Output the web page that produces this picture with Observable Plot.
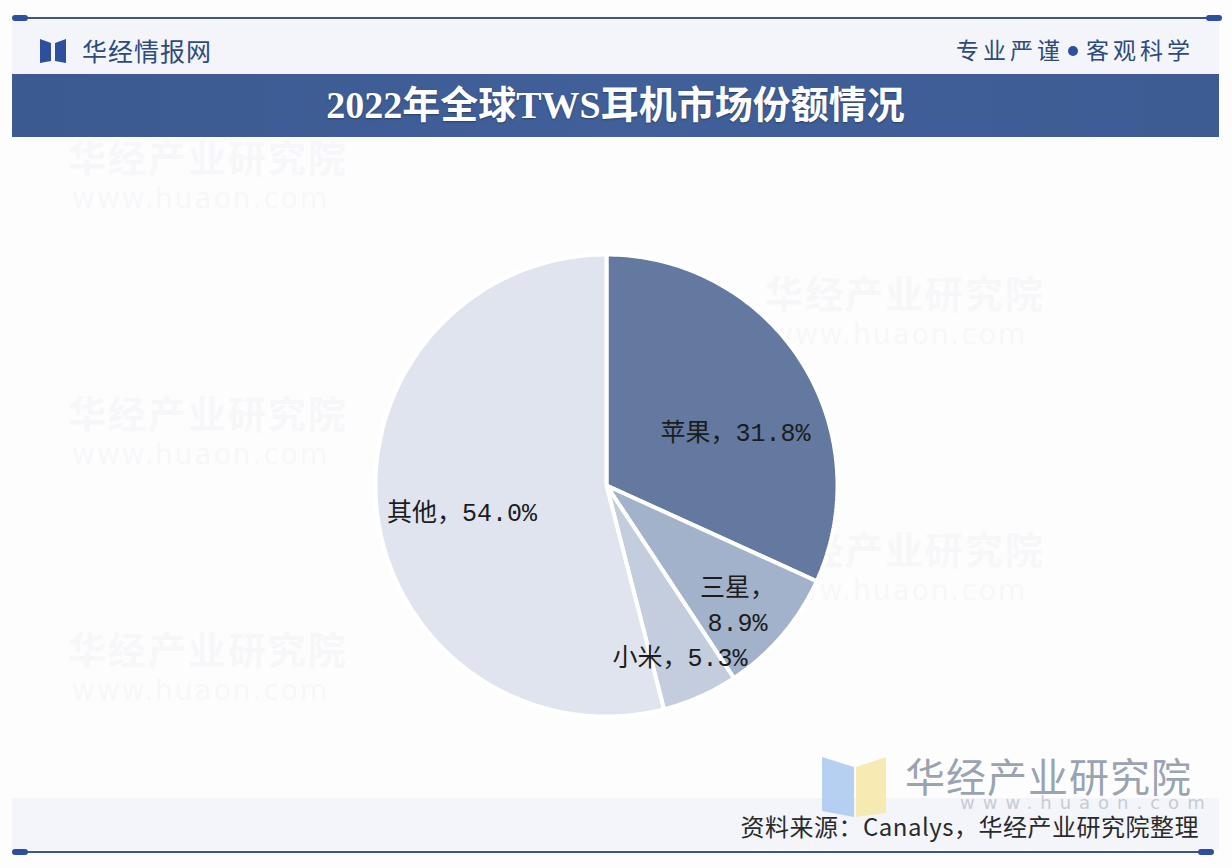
<!DOCTYPE html>
<html>
<head>
<meta charset="utf-8">
<script src="https://cdn.jsdelivr.net/npm/d3@7"></script>
<script src="https://cdn.jsdelivr.net/npm/@observablehq/plot@0.6"></script>
<style>
  html, body { margin: 0; padding: 0; }
  body { width: 1232px; height: 868px; position: relative; overflow: hidden; background: #fdfdfe; font-family: "Noto Sans CJK SC", "Noto Sans", sans-serif; }
  .abs { position: absolute; }
  #topline { left: 14px; top: 17px; width: 1206px; height: 2px; background: #3a5688; }
  #topcapL { left: 12px; top: 15px; width: 16px; height: 6px; border-radius: 3px; background: #2c4f9e; }
  #topcapR { left: 1206px; top: 15px; width: 16px; height: 6px; border-radius: 3px; background: #2c4f9e; }
  #header { left: 12px; top: 20px; width: 1207px; height: 54px; background: #f3f5fa; }
  #brand { left: 82px; top: 32px; font-size: 25px; color: #2f4b7c; letter-spacing: 1px; line-height: 36px; }
  #slogan { right: 38px; top: 31px; font-size: 23px; color: #2f4b7c; letter-spacing: 4px; line-height: 36px; }
  #dot { display: inline-block; width: 10px; height: 10px; border-radius: 5px; background: #2c4f9e; margin: 0 8px 3px 4px; vertical-align: middle; }
  #banner { left: 12px; top: 74px; width: 1207px; height: 63px; background: linear-gradient(90deg, #3b5a91, #41609a 50%, #3d5c94); }
  #title { left: 12px; top: 74px; width: 1207px; height: 63px; line-height: 63px; text-align: center; color: #ffffff; font-size: 38px; font-weight: bold; font-family: "Liberation Serif", "Noto Sans CJK SC", serif; text-shadow: 0 1px 2px rgba(0,0,0,0.35); }
  #footer { left: 12px; top: 798px; width: 1207px; height: 52px; background: #f3f5fa; }
  #botline { left: 14px; top: 851px; width: 1198px; height: 2px; background: #3a5688; }
  #botcapL { left: 12px; top: 849px; width: 16px; height: 6px; border-radius: 3px; background: #2c4f9e; }
  #botcapR { left: 1198px; top: 849px; width: 16px; height: 6px; border-radius: 3px; background: #2c4f9e; }
  #source { right: 33px; top: 811px; font-size: 24px; color: #2a2a2a; line-height: 30px; letter-spacing: 0.5px; }
  .wm { color: #7d8796; opacity: 0.045; font-size: 38px; line-height: 40px; font-weight: bold; letter-spacing: 2px; }
  .wm2 { color: #7d8796; opacity: 0.04; font-size: 28px; line-height: 30px; letter-spacing: 2px; font-family: "DejaVu Sans", sans-serif; }
  #wmbig { left: 905px; top: 755px; font-size: 40px; color: #9aa3b0; letter-spacing: 1px; line-height: 40px; }
  #wmurl { left: 960px; top: 796px; font-size: 18px; color: #9aa3b0; opacity: 0.5; letter-spacing: 8px; line-height: 14px; font-family: "DejaVu Sans", sans-serif; }
  #chart { left: 0; top: 140px; }
</style>
</head>
<body>
<div class="abs" id="header"></div>
<div class="abs" id="topline"></div>
<div class="abs" id="topcapL"></div>
<div class="abs" id="topcapR"></div>
<svg class="abs" style="left:38px;top:37px" width="30" height="28" viewBox="0 0 30 28">
  <polygon points="2,2 13,6 13,24 2,26" fill="#2c4f9e"/>
  <polygon points="28,2 17,6 17,24 28,26" fill="#2c4f9e"/>
</svg>
<div class="abs" id="brand">华经情报网</div>
<div class="abs" id="slogan">专业严谨<span id="dot"></span>客观科学</div>
<div class="abs" id="banner"></div>
<div class="abs" id="title">2022年全球TWS耳机市场份额情况</div>

<div class="abs wm" style="left:68px;top:136px;">华经产业研究院</div>
<div class="abs wm2" style="left:72px;top:184px;">www.huaon.com</div>
<div class="abs wm" style="left:68px;top:392px;">华经产业研究院</div>
<div class="abs wm2" style="left:72px;top:440px;">www.huaon.com</div>
<div class="abs wm" style="left:68px;top:628px;">华经产业研究院</div>
<div class="abs wm2" style="left:72px;top:676px;">www.huaon.com</div>
<div class="abs wm" style="left:765px;top:272px;">华经产业研究院</div>
<div class="abs wm2" style="left:770px;top:320px;">www.huaon.com</div>
<div class="abs wm" style="left:765px;top:528px;">华经产业研究院</div>
<div class="abs wm2" style="left:770px;top:576px;">www.huaon.com</div>

<div class="abs" id="footer"></div>
<svg class="abs" style="left:820px;top:755px" width="70" height="68" viewBox="0 0 70 68">
  <polygon points="2,2 34,12 34,62 2,56" fill="#a9c8f0" opacity="0.85"/>
  <polygon points="36,12 66,2 66,58 36,62" fill="#f6e7a6" opacity="0.85"/>
</svg>
<div class="abs" id="wmbig">华经产业研究院</div>
<div class="abs" id="wmurl">www.huaon.com</div>
<div class="abs" id="source">资料来源：Canalys，华经产业研究院整理</div>
<div class="abs" id="botline"></div>
<div class="abs" id="botcapL"></div>
<div class="abs" id="botcapR"></div>

<div class="abs" id="chart"></div>

<script>
// ---- data ----
const brands = ["苹果", "三星", "小米", "其他"];
const shares = [31.8, 8.9, 5.3, 54.0];
const colors = ["#63799f", "#a3b2cb", "#c3cddd", "#dfe4ee"];

// ---- geometry (derived from data) ----
const W = 1232, H = 660;
const R = 231;            // pie radius in px
const CX = 606, CY = 345; // pie center in svg px
const pie = d3.pie().sort(null).value(d => d.share)(brands.map((b, i) => ({brand: b, share: shares[i]})));

const slices = pie.map((p, i) => {
  const pts = [{x: 0, y: 0}];
  const n = Math.max(2, Math.ceil((p.endAngle - p.startAngle) / (2 * Math.PI) * 360));
  for (let k = 0; k <= n; k++) {
    const a = p.startAngle + (p.endAngle - p.startAngle) * k / n;
    pts.push({x: Math.sin(a), y: Math.cos(a)});
  }
  pts.push({x: 0, y: 0});
  return {brand: p.data.brand, color: colors[i], pts};
});

// label placement tweaks (screen px)
const labelK = 0.7;
const tweak = {"苹果": [-7, 32], "三星": [8, 12], "小米": [8, 22], "其他": [16, 4]};
const labels = pie.map(p => {
  const mid = (p.startAngle + p.endAngle) / 2;
  const name = p.data.brand;
  const txt = name === "三星"
    ? `${name}，\n${p.data.share.toFixed(1)}%`
    : `${name}，${p.data.share.toFixed(1)}%`;
  return {x: labelK * Math.sin(mid), y: labelK * Math.cos(mid), text: txt, dx: tweak[name][0], dy: tweak[name][1]};
});

const marks = slices.map(s =>
  Plot.line(s.pts, {x: "x", y: "y", fill: s.color, stroke: "#ffffff", strokeWidth: 4, strokeLinejoin: "miter", curve: "linear"})
);
labels.forEach(l => {
  marks.push(Plot.text([l], {
    x: "x", y: "y", text: "text", dx: l.dx, dy: l.dy,
    fontSize: 25, fill: "#1c1c1c", lineHeight: 1.4,
    fontFamily: "'Liberation Mono', 'Noto Sans CJK SC', monospace"
  }));
});

const chart = Plot.plot({
  width: W, height: H,
  margin: 0,
  x: {type: "linear", domain: [-CX / R, (W - CX) / R], range: [0, W], axis: null},
  y: {type: "linear", domain: [-(H - CY) / R, CY / R], range: [H, 0], axis: null},
  style: {background: "transparent", overflow: "visible"},
  marks
});
document.getElementById("chart").appendChild(chart);
</script>
</body>
</html>
